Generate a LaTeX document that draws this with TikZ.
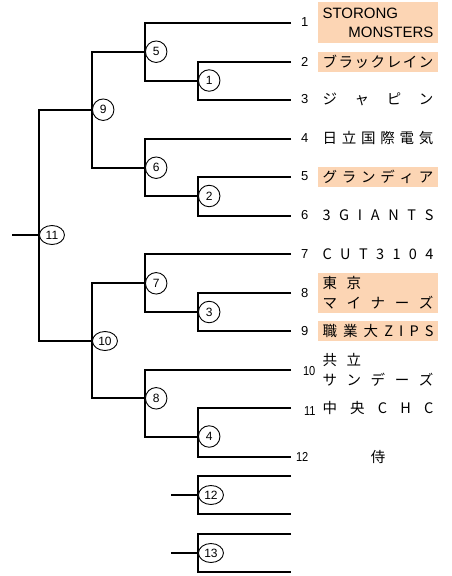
\documentclass[tikz,border=0pt]{standalone}
\usepackage{fontspec}
\setmainfont{Liberation Sans}
\newfontfamily\jp{Noto Sans CJK JP}
\usetikzlibrary{positioning,shapes}
\definecolor{peach}{HTML}{FCD5B4}
\newcommand{\spread}[1]{\makebox[111pt][s]{#1}}

\begin{document}
\begin{tikzpicture}[x=1pt,y=-1pt,line width=2pt,
  rnd/.style={circle,draw,line width=0.9pt,fill=white,inner sep=0pt,minimum size=21.5pt,font=\fontsize{12}{12}\selectfont},
  rndw/.style={rnd,ellipse,minimum width=25pt,minimum height=19pt},
  num/.style={inner sep=0pt,font=\fontsize{13}{13}\selectfont},
  team/.style={minimum width=120pt,minimum height=20pt,inner sep=0pt,align=center,font=\jp\fontsize{14.5}{20}\selectfont},
  seed/.style={team,fill=peach}]

  \useasboundingbox (0,0) rectangle (452,576);

  % team line ends
  \coordinate (t1) at (291,22.5);
  \coordinate (t2) at (291,61.5);
  \coordinate (t3) at (291,99.5);
  \coordinate (t4) at (291,138.5);
  \coordinate (t5) at (291,176.5);
  \coordinate (t6) at (291,215.5);
  \coordinate (t7) at (291,254);
  \coordinate (t8) at (291,293);
  \coordinate (t9) at (291,331);
  \coordinate (t10) at (291,370);
  \coordinate (t11) at (291,408);
  \coordinate (t12) at (291,457);
  \coordinate (e1) at (291,476);
  \coordinate (e2) at (291,514);
  \coordinate (e3) at (291,534);
  \coordinate (e4) at (291,572);

  % match junctions
  \coordinate (j1) at (198,80.5);
  \coordinate (j2) at (198,196);
  \coordinate (j3) at (198,312);
  \coordinate (j4) at (198,436.5);
  \coordinate (j5) at (145,51.7);
  \coordinate (j6) at (145,167.7);
  \coordinate (j7) at (145,283.3);
  \coordinate (j8) at (145,398.3);
  \coordinate (j9) at (92,109.7);
  \coordinate (j10) at (92,341);
  \coordinate (j11) at (39,235);
  \coordinate (j12) at (198,495);
  \coordinate (j13) at (198,553);
  \coordinate (s11) at (12,235);
  \coordinate (s12) at (171,495);
  \coordinate (s13) at (171,553);

  % brackets
  \draw (t2) -| (j1) |- (t3);
  \draw (t5) -| (j2) |- (t6);
  \draw (t8) -| (j3) |- (t9);
  \draw (t11) -| (j4) |- (t12);
  \draw (t1) -| (j5) |- (j1);
  \draw (t4) -| (j6) |- (j2);
  \draw (t7) -| (j7) |- (j3);
  \draw (t10) -| (j8) |- (j4);
  \draw (j5) -| (j9) |- (j6);
  \draw (j7) -| (j10) |- (j8);
  \draw (j9) -| (j11) |- (j10);
  \draw (e1) -| (j12) |- (e2);
  \draw (e3) -| (j13) |- (e4);
  \draw (s11) -- (j11);
  \draw (s12) -- (j12);
  \draw (s13) -- (j13);

  % match numbers
  \node[rnd,right=0pt of j1] (r1) {1};
  \node[rnd,right=0pt of j2] (r2) {2};
  \node[rnd,right=0pt of j3] (r3) {3};
  \node[rnd,right=0pt of j4] (r4) {4};
  \node[rnd,right=0pt of j5] (r5) {5};
  \node[rnd,right=0pt of j6] (r6) {6};
  \node[rnd,right=0pt of j7] (r7) {7};
  \node[rnd,right=0pt of j8] (r8) {8};
  \node[rnd,right=0pt of j9] (r9) {9};
  \node[rndw,right=0pt of j10] (r10) {10};
  \node[rndw,right=0pt of j11] (r11) {11};
  \node[rndw,right=0pt of j12] (r12) {12};
  \node[rndw,right=0pt of j13] (r13) {13};

  % team numbers
  \node[num,right=9pt of t1] (n1) {1};
  \node[num,right=9pt of t2] (n2) {2};
  \node[num,right=9pt of t3] (n3) {3};
  \node[num,right=9pt of t4] (n4) {4};
  \node[num,right=9pt of t5] (n5) {5};
  \node[num,right=9pt of t6] (n6) {6};
  \node[num,right=9pt of t7] (n7) {7};
  \node[num,right=9pt of t8] (n8) {8};
  \node[num,right=9pt of t9] (n9) {9};
  \node[num,right=11pt of t10,yshift=-1pt] (n10) {\scalebox{0.85}[1]{10}};
  \node[num,right=12pt of t11,yshift=-3pt] (n11) {\scalebox{0.85}[1]{11}};
  \node[num,right=4pt of t12] (n12) {\scalebox{0.85}[1]{12}};

  % team names
  \node[seed,right=26pt of t1,minimum height=41.5pt,font=\fontsize{15}{19}\selectfont] (l1)
    {\makebox[111pt][l]{STORONG}\\\makebox[111pt][r]{MONSTERS}};
  \node[seed,right=26pt of t2] (l2) {\spread{ブ\hfill ラ\hfill ッ\hfill ク\hfill レ\hfill イ\hfill ン}};
  \node[team,right=26pt of t3] (l3) {\spread{ジ\hfill ャ\hfill ピ\hfill ン}};
  \node[team,right=26pt of t4] (l4) {\spread{日\hfill 立\hfill 国\hfill 際\hfill 電\hfill 気}};
  \node[seed,right=26pt of t5] (l5) {\spread{グ\hfill ラ\hfill ン\hfill デ\hfill ィ\hfill ア}};
  \node[team,right=26pt of t6] (l6) {\spread{3\hfill G\hfill I\hfill A\hfill N\hfill T\hfill S}};
  \node[team,right=26pt of t7] (l7) {\spread{C\hfill U\hfill T\hfill 3\hfill 1\hfill 0\hfill 4}};
  \node[seed,right=26pt of t8,minimum height=40pt] (l8)
    {\spread{東\hfill 京\hfill\phantom{ナ}\hfill\phantom{ー}\hfill\phantom{ズ}}\\
     \spread{マ\hfill イ\hfill ナ\hfill ー\hfill ズ}};
  \node[seed,right=26pt of t9] (l9) {\spread{職\hfill 業\hfill 大\hfill Z\hfill I\hfill P\hfill S}};
  \node[team,right=26pt of t10] (l10)
    {\spread{共\hfill 立\hfill\phantom{デ}\hfill\phantom{ー}\hfill\phantom{ズ}}\\
     \spread{サ\hfill ン\hfill デ\hfill ー\hfill ズ}};
  \node[team,right=26pt of t11] (l11) {\spread{中\hfill 央\hfill C\hfill H\hfill C}};
  \node[team,right=26pt of t12] (l12) {侍};

\end{tikzpicture}
\end{document}
